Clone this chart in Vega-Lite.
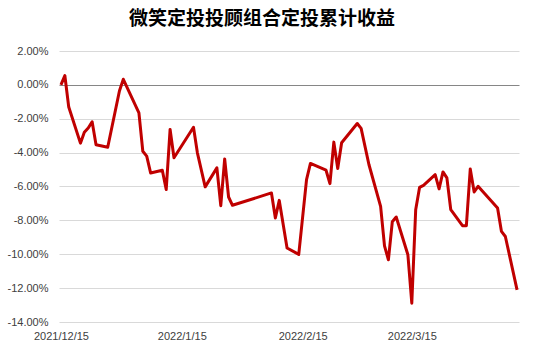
{
  "$schema": "https://vega.github.io/schema/vega-lite/v6.json",
  "autosize": "none",
  "width": 460,
  "height": 271,
  "padding": {"left": 59, "top": 51, "right": 15, "bottom": 32},
  "background": "white",
  "title": {
    "text": "微笑定投投顾组合定投累计收益",
    "font": "Noto Sans CJK SC",
    "fontSize": 19,
    "fontWeight": "bold",
    "color": "#000000",
    "anchor": "middle",
    "offset": 16,
    "dx": -27
  },
  "data": {
    "values": [
      {"date": "2021-12-15", "r": 0.0},
      {"date": "2021-12-16", "r": 0.0055},
      {"date": "2021-12-17", "r": -0.0131},
      {"date": "2021-12-20", "r": -0.0344},
      {"date": "2021-12-21", "r": -0.0280},
      {"date": "2021-12-22", "r": -0.0255},
      {"date": "2021-12-23", "r": -0.0218},
      {"date": "2021-12-24", "r": -0.0354},
      {"date": "2021-12-27", "r": -0.0368},
      {"date": "2021-12-30", "r": -0.0036},
      {"date": "2021-12-31", "r": 0.0033},
      {"date": "2022-01-04", "r": -0.0165},
      {"date": "2022-01-05", "r": -0.0392},
      {"date": "2022-01-06", "r": -0.0421},
      {"date": "2022-01-07", "r": -0.0520},
      {"date": "2022-01-10", "r": -0.0504},
      {"date": "2022-01-11", "r": -0.0618},
      {"date": "2022-01-12", "r": -0.0263},
      {"date": "2022-01-13", "r": -0.0430},
      {"date": "2022-01-18", "r": -0.0250},
      {"date": "2022-01-19", "r": -0.0401},
      {"date": "2022-01-21", "r": -0.0602},
      {"date": "2022-01-24", "r": -0.0490},
      {"date": "2022-01-25", "r": -0.0713},
      {"date": "2022-01-26", "r": -0.0437},
      {"date": "2022-01-27", "r": -0.0662},
      {"date": "2022-01-28", "r": -0.0711},
      {"date": "2022-02-07", "r": -0.0638},
      {"date": "2022-02-08", "r": -0.0786},
      {"date": "2022-02-09", "r": -0.0682},
      {"date": "2022-02-11", "r": -0.0963},
      {"date": "2022-02-14", "r": -0.1001},
      {"date": "2022-02-16", "r": -0.0559},
      {"date": "2022-02-17", "r": -0.0464},
      {"date": "2022-02-21", "r": -0.0504},
      {"date": "2022-02-22", "r": -0.0583},
      {"date": "2022-02-23", "r": -0.0338},
      {"date": "2022-02-24", "r": -0.0494},
      {"date": "2022-02-25", "r": -0.0342},
      {"date": "2022-03-01", "r": -0.0228},
      {"date": "2022-03-02", "r": -0.0257},
      {"date": "2022-03-04", "r": -0.0470},
      {"date": "2022-03-07", "r": -0.0717},
      {"date": "2022-03-08", "r": -0.0950},
      {"date": "2022-03-09", "r": -0.1033},
      {"date": "2022-03-10", "r": -0.0808},
      {"date": "2022-03-11", "r": -0.0780},
      {"date": "2022-03-14", "r": -0.1003},
      {"date": "2022-03-15", "r": -0.1289},
      {"date": "2022-03-16", "r": -0.0737},
      {"date": "2022-03-17", "r": -0.0605},
      {"date": "2022-03-18", "r": -0.0593},
      {"date": "2022-03-21", "r": -0.0530},
      {"date": "2022-03-22", "r": -0.0614},
      {"date": "2022-03-23", "r": -0.0514},
      {"date": "2022-03-24", "r": -0.0549},
      {"date": "2022-03-25", "r": -0.0737},
      {"date": "2022-03-28", "r": -0.0831},
      {"date": "2022-03-29", "r": -0.0831},
      {"date": "2022-03-30", "r": -0.0496},
      {"date": "2022-03-31", "r": -0.0632},
      {"date": "2022-04-01", "r": -0.0599},
      {"date": "2022-04-06", "r": -0.0727},
      {"date": "2022-04-07", "r": -0.0865},
      {"date": "2022-04-08", "r": -0.0895},
      {"date": "2022-04-11", "r": -0.1210}
    ]
  },
  "mark": {"type": "line", "color": "#C00000", "strokeWidth": 3, "strokeJoin": "round", "clip": false},
  "encoding": {
    "x": {
      "field": "date",
      "type": "temporal",
      "scale": {
        "type": "utc",
        "domain": [
          {"year": 2021, "month": 12, "date": 14, "hours": 12, "utc": true},
          {"year": 2022, "month": 4, "date": 11, "hours": 12, "utc": true}
        ]
      },
      "axis": {
        "title": null,
        "values": [
          {"year": 2021, "month": 12, "date": 15, "utc": true},
          {"year": 2022, "month": 1, "date": 15, "utc": true},
          {"year": 2022, "month": 2, "date": 15, "utc": true},
          {"year": 2022, "month": 3, "date": 15, "utc": true}
        ],
        "format": "%Y/%-m/%-d",
        "grid": false,
        "domain": false,
        "ticks": false,
        "labelFont": "Liberation Sans",
        "labelFontSize": 11,
        "labelColor": "#404040",
        "labelPadding": 8,
        "labelFlush": false,
        "labelOverlap": false,
        "labelBound": false
      }
    },
    "y": {
      "field": "r",
      "type": "quantitative",
      "scale": {"domain": [-0.14, 0.02], "nice": false, "zero": false},
      "axis": {
        "title": null,
        "values": [0.02, 0, -0.02, -0.04, -0.06, -0.08, -0.1, -0.12, -0.14],
        "format": ".2%",
        "domain": false,
        "ticks": false,
        "grid": true,
        "gridColor": {"condition": {"test": "datum.value === 0", "value": "#868686"}, "value": "#d9d9d9"},
        "gridWidth": 1,
        "labelFont": "Liberation Sans",
        "labelFontSize": 11,
        "labelColor": "#404040",
        "labelPadding": 11,
        "labelOverlap": false
      }
    }
  },
  "config": {
    "view": {"stroke": null},
    "locale": {
      "number": {"decimal": ".", "thousands": ",", "grouping": [3], "currency": ["$", ""], "minus": "-"}
    }
  }
}
